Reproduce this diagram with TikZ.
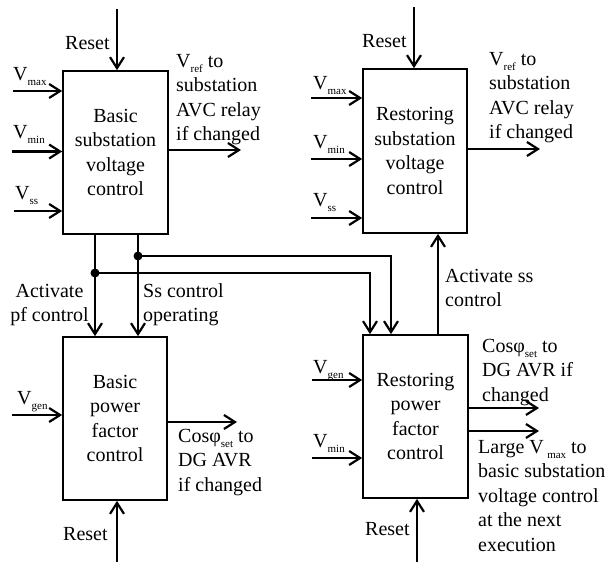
\documentclass[tikz,border=0pt]{standalone}
\usepackage{fontspec}
\setmainfont{Liberation Serif}
\usetikzlibrary{arrows.meta}
\newcommand\mysub[1]{\raisebox{-5pt}{\fontsize{11}{11}\selectfont #1}}
\begin{document}
\begin{tikzpicture}[x=1pt,y=-1pt,
  every node/.style={font=\fontsize{20}{24.5}\selectfont, inner sep=0pt},
  blk/.style={draw, line width=1.7pt, align=center, minimum width=105pt, minimum height=163pt},
  arr/.style={line width=2.2pt, -{Straight Barb[length=11pt,width=14pt]}},
  lbl/.style={anchor=north west, align=left},
  lbs/.style={anchor=base west},
  dot/.style={fill=black}
]
\useasboundingbox (0,0) rectangle (611,563);

% blocks
\node[blk] (b1) at (115.5,152.5) {Basic\\substation\\voltage\\control};
\node[blk, minimum width=104pt, minimum height=164pt] (b2) at (415,151) {Restoring\\substation\\voltage\\control};
\node[blk, minimum width=104pt] (b3) at (115,418.5) {Basic\\power\\factor\\control};
\node[blk] (b4) at (415.5,416.5) {Restoring\\power\\factor\\control};

% reset arrows
\coordinate (r1) at (117,9);
\coordinate (r2) at (414,7);
\coordinate (r3) at (117,562);
\coordinate (r4) at (417,562);
\draw[arr] (r1) -- (r1 |- b1.north);
\draw[arr] (r2) -- (r2 |- b2.north);
\draw[arr] (r3) -- (r3 |- b3.south);
\draw[arr] (r4) -- (r4 |- b4.south);
\node[lbs] (t1) at (65,49) {Reset};
\node[lbs] (t2) at (362,47) {Reset};
\node[lbs] (t3) at (63,540) {Reset};
\node[lbs] (t4) at (365,535) {Reset};

% inputs b1
\coordinate (i11) at (13,91);
\coordinate (i12) at (12,151.5);
\coordinate (i13) at (14,211);
\draw[arr] (i11) -- (i11 -| b1.west);
\draw[arr] (i12) -- (i12 -| b1.west);
\draw[arr] (i13) -- (i13 -| b1.west);
\node[lbs] (v11) at (13,80) {V\mysub{max}};
\node[lbs] (v12) at (13,138.5) {V\mysub{min}};
\node[lbs] (v13) at (15,199) {V\mysub{ss}};

% inputs b2
\coordinate (i21) at (311,98);
\coordinate (i22) at (311,159);
\coordinate (i23) at (311,218);
\draw[arr] (i21) -- (i21 -| b2.west);
\draw[arr] (i22) -- (i22 -| b2.west);
\draw[arr] (i23) -- (i23 -| b2.west);
\node[lbs] (v21) at (313,89) {V\mysub{max}};
\node[lbs] (v22) at (313,148) {V\mysub{min}};
\node[lbs] (v23) at (313,206) {V\mysub{ss}};

% inputs b3, b4
\coordinate (i31) at (12,415);
\draw[arr] (i31) -- (i31 -| b3.west);
\node[lbs] (v31) at (17,404) {V\mysub{gen}};
\coordinate (i41) at (312,380);
\coordinate (i42) at (312,458);
\draw[arr] (i41) -- (i41 -| b4.west);
\draw[arr] (i42) -- (i42 -| b4.west);
\node[lbs] (v41) at (313,373) {V\mysub{gen}};
\node[lbs] (v42) at (313,447) {V\mysub{min}};

% outputs
\coordinate (o1) at (241,150);
\coordinate (o2) at (540,149);
\coordinate (o3) at (237,422);
\coordinate (o41) at (539,408);
\coordinate (o42) at (539,431);
\draw[arr] (o1 -| b1.east) -- (o1);
\draw[arr] (o2 -| b2.east) -- (o2);
\draw[arr] (o3 -| b3.east) -- (o3);
\draw[arr] (o41 -| b4.east) -- (o41);
\draw[arr] (o42 -| b4.east) -- (o42);
\node[lbl] (l1) at (176,49.85) {\strut V\mysub{ref} to\\substation\\AVC relay\\if changed};
\node[lbl] (l2) at (489,47.85) {\strut V\mysub{ref} to\\substation\\AVC relay\\if changed};
\node[lbl] (l3) at (178,424.85) {\strut Cosφ\mysub{set} to\\DG AVR\\if changed};
\node[lbl] (l41) at (482,334.85) {\strut Cosφ\mysub{set} to\\DG AVR if\\changed};
\node[lbl] (l42) at (478,435.85) {\strut Large V\,\mysub{max} to\\basic substation\\voltage control\\at the next\\execution};

% interconnections
\coordinate (d1) at (95,273);
\coordinate (d2) at (138,256);
\coordinate (k1) at (370,273);
\coordinate (k2) at (391,256);
\draw[arr] (d1 |- b1.south) -- (d1 |- b3.north);
\draw[arr] (d2 |- b1.south) -- (d2 |- b3.north);
\draw[arr] (d1) -- (k1) -- (k1 |- b4.north);
\draw[arr] (d2) -- (k2) -- (k2 |- b4.north);
\fill[dot] (d1) circle[radius=4.5pt];
\fill[dot] (d2) circle[radius=4.5pt];
\coordinate (a4) at (438,0);
\draw[arr] (a4 |- b4.north) -- (a4 |- b2.south);

\node[anchor=north, align=center] (la) at (49.5,279.85) {\strut Activate\\pf control};
\node[lbl] (ls) at (143,279.85) {\strut Ss control\\operating};
\node[lbl] (lss) at (445,264.85) {\strut Activate ss\\control};
\end{tikzpicture}
\end{document}
